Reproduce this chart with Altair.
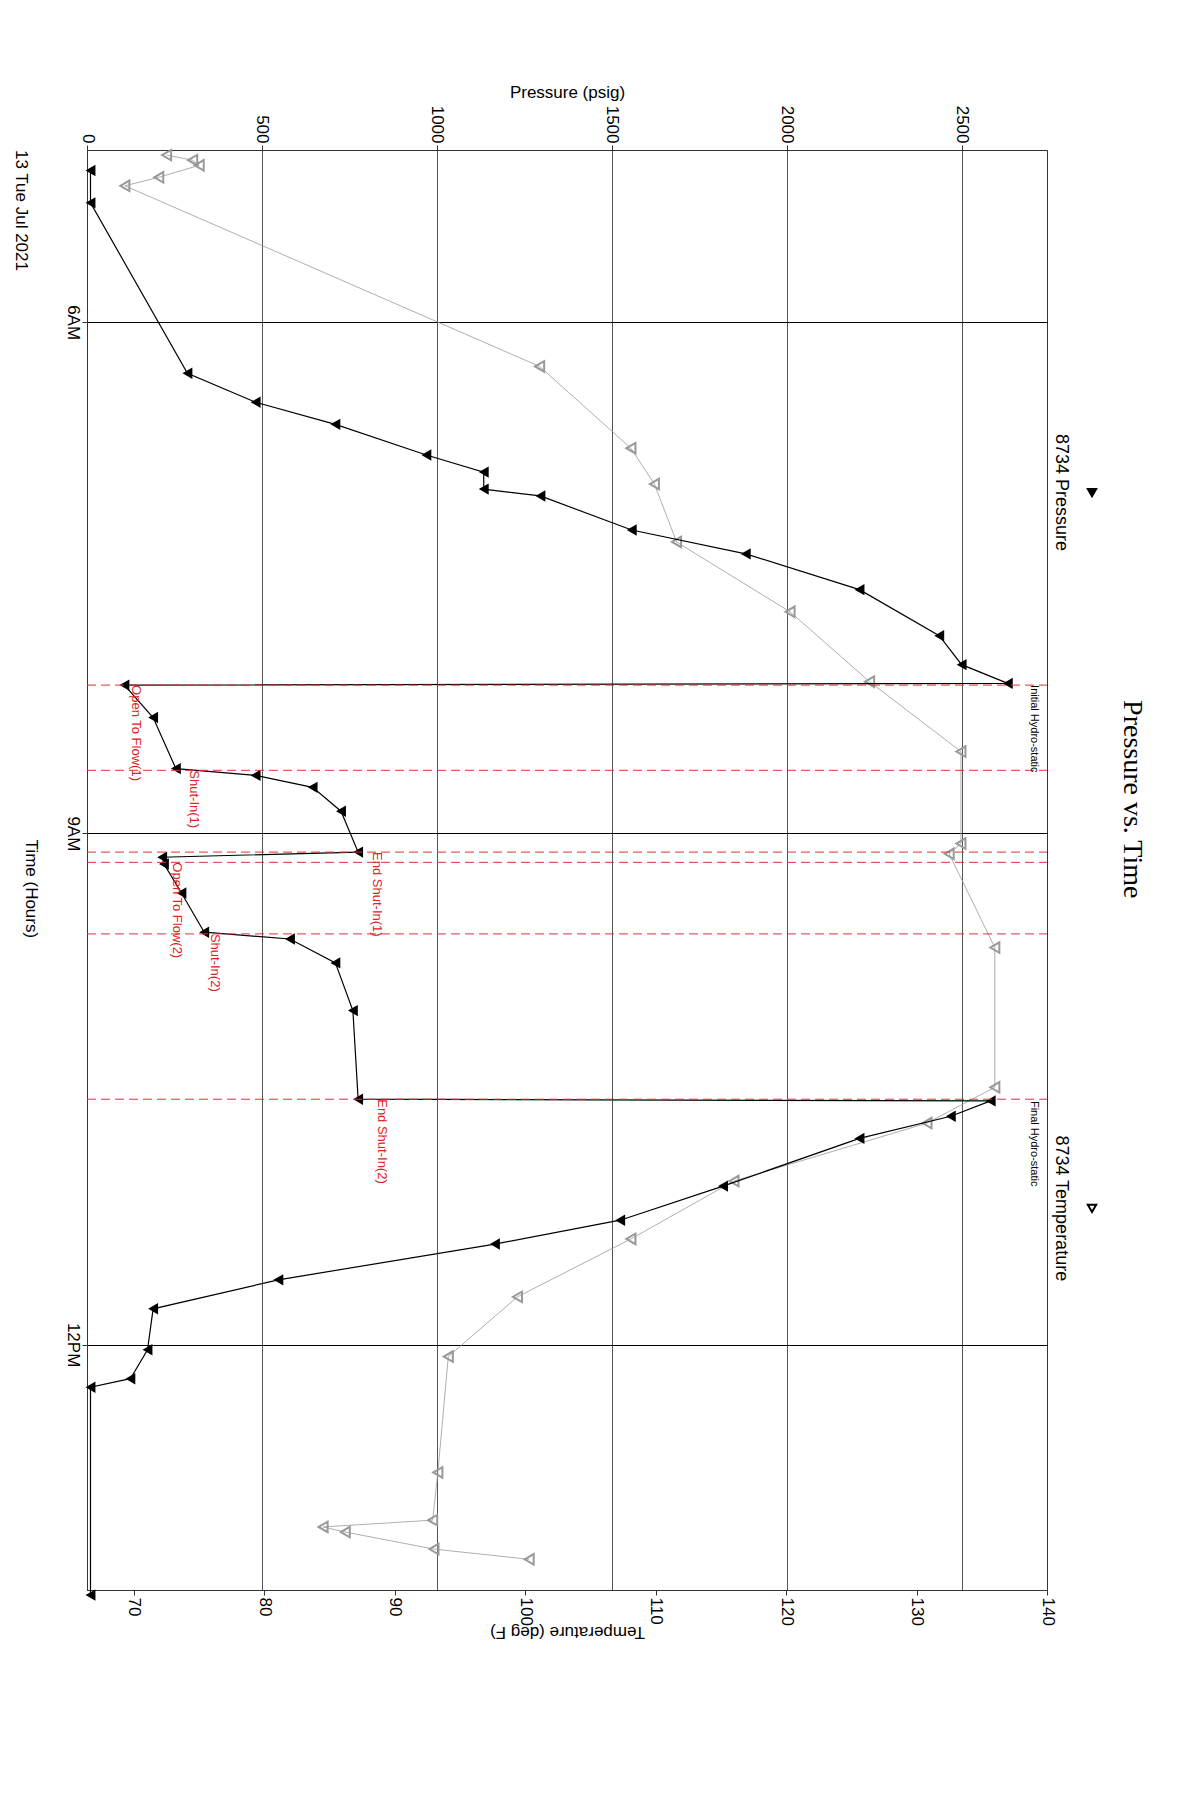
import altair as alt
import pandas as pd

# time in decimal hours, 13 Jul 2021
p_time = [5.11, 5.30, 6.30, 6.47, 6.60, 6.78, 6.88, 6.98, 7.02, 7.22, 7.36, 7.57, 7.84, 8.01, 8.12,
          8.13, 8.32, 8.62, 8.66, 8.73, 8.87, 9.11, 9.14, 9.18, 9.35, 9.58, 9.62, 9.76, 10.04, 10.56,
          10.57, 10.66, 10.79, 11.07, 11.27, 11.41, 11.62, 11.79, 12.03, 12.20, 12.25, 13.47]
p_val = [10, 10, 287, 482, 710, 970, 1134, 1134, 1296, 1557, 1883, 2208, 2436, 2500, 2632,
         107, 189, 254, 482, 645, 726, 775, 215, 220, 270, 335, 580, 710, 760, 775,
         2583, 2469, 2208, 1818, 1524, 1166, 547, 189, 173, 124, 10, 10]
t_time = [5.02, 5.05, 5.08, 5.15, 5.20, 6.26, 6.74, 6.95, 7.29, 7.70, 8.11, 8.52, 9.06, 9.12, 9.67,
          10.49, 10.70, 11.04, 11.38, 11.72, 12.07, 12.75, 13.03, 13.07, 13.10, 13.20, 13.26]
t_val = [72.5, 74.5, 75.0, 71.9, 69.3, 101.1, 108.1, 109.9, 111.6, 120.3, 126.4, 133.4, 133.4, 132.5, 136.0,
         136.0, 130.8, 116.0, 108.1, 99.4, 94.1, 93.3, 92.9, 84.5, 86.2, 93.0, 100.3]
ev_time = [8.13, 8.63, 9.11, 9.17, 9.59, 10.56]
ev_label = ["Open To Flow(1)", "Shut-In(1)", "End Shut-In(1)", "Open To Flow(2)", "Shut-In(2)", "End Shut-In(2)"]
ev_psi = [120, 287, 808, 238, 345, 824]
hydro_time = [8.13, 10.57]
hydro_label = ["Initial Hydro-static", "Final Hydro-static"]
date_label = "13 Tue Jul 2021"

W, H = 960, 1440
yscale = alt.Scale(domain=[4.99, 13.44], nice=False, zero=False, reverse=True)
pscale = alt.Scale(domain=[0, 2744], nice=False, zero=False)
tscale = alt.Scale(domain=[66.4, 140.0], nice=False, zero=False)
F = "Liberation Sans"

pdf = pd.DataFrame({"time": p_time, "psi": p_val})
tdf = pd.DataFrame({"time": t_time, "temp": t_val})
edf = pd.DataFrame({"time": ev_time, "label": ev_label, "psi": ev_psi})
hdf = pd.DataFrame({"time": hydro_time, "label": hydro_label, "psi": [2680, 2680]})

y_time = alt.Y("time:Q", scale=yscale, axis=alt.Axis(
    values=[6, 9, 12], labelExpr="datum.value == 6 ? '6AM' : datum.value == 9 ? '9AM' : '12PM'",
    labelAngle=90, labelAlign="center", labelBaseline="top", title="Time (Hours)", titleAngle=90,
    titleBaseline="top", titlePadding=26, titleY=H * (9.0 - 4.99) / 8.45 + 55,
    titleFontSize=17, labelFontSize=17, grid=True, gridColor="black", gridOpacity=1, labelFont=F, titleFont=F,
    titleFontWeight="normal"))

temp_line = alt.Chart(tdf).mark_line(color="#999", strokeWidth=0.8, point=alt.OverlayMarkDef(
    shape="triangle-left", filled=False, stroke="#999", size=110)).encode(
    x=alt.X("temp:Q", scale=tscale, axis=alt.Axis(orient="bottom", values=[70, 80, 90, 100, 110, 120, 130, 140],
            labelAngle=90, labelAlign="left", labelBaseline="middle", grid=False, title="Temperature (deg F)",
            titleAngle=180, titlePadding=14, titleFontSize=17, labelFontSize=17, labelFont=F, titleFont=F,
            titleFontWeight="normal")),
    y=y_time, order="time:Q")

base_x = alt.X("psi:Q", scale=pscale, axis=alt.Axis(orient="top", values=[0, 500, 1000, 1500, 2000, 2500],
               format="d", labelAngle=90, labelAlign="right", labelBaseline="middle", grid=True,
               gridColor="#555", gridOpacity=1, title="Pressure (psig)",
               titleFontSize=17, labelFontSize=17, labelFont=F, titleFont=F, titleFontWeight="normal"))
x_none = alt.X("psi:Q", scale=pscale, axis=None)

press_line = alt.Chart(pdf).mark_line(color="black", strokeWidth=1.2, point=alt.OverlayMarkDef(
    shape="triangle-left", filled=True, color="black", size=130)).encode(x=base_x, y=y_time, order="time:Q")

ev_rules = alt.Chart(edf).mark_rule(color="#d33", strokeDash=[9, 5], strokeWidth=1).encode(
    y=y_time, x=alt.value(0), x2=alt.value(W))
ev_text = alt.Chart(edf).mark_text(color="#d22", angle=90, align="left", baseline="middle", fontSize=13, font=F,
                                   dy=-7).encode(x=x_none, y=y_time, text="label:N")
h_text = alt.Chart(hdf).mark_text(color="black", angle=90, align="left", baseline="middle", fontSize=11, font=F,
                                  dy=-9).encode(x=x_none, y=y_time, text="label:N")

labels = pd.DataFrame({"t": ["Pressure vs. Time", "8734 Pressure", "8734 Temperature", date_label],
                       "time": [8.8, 7.0, 11.2, 4.99], "size": [28, 18, 18, 17]})
title_txt = alt.Chart(labels).transform_filter("datum.size == 28").mark_text(
    angle=90, fontSize=28, font="Liberation Serif", align="center", baseline="middle").encode(
    x=alt.value(W + 85), y=y_time, text="t:N")
leg_txt = alt.Chart(labels).transform_filter("datum.size == 18").mark_text(
    angle=90, fontSize=18, font=F, align="center", baseline="middle").encode(
    x=alt.value(W + 14), y=y_time, text="t:N")
date_txt = alt.Chart(labels).transform_filter("datum.size == 17").mark_text(
    angle=90, fontSize=17, font=F, align="left", baseline="middle").encode(
    x=alt.value(-66), y=y_time, text="t:N")
leg_sym = alt.Chart(pd.DataFrame({"time": [7.0, 11.2], "f": [True, False]})).mark_point(
    shape="triangle-down", size=70, color="black", opacity=1).encode(
    x=alt.value(W + 45), y=y_time,
    fill=alt.condition("datum.f", alt.value("black"), alt.value("white")))

chart = alt.layer(temp_line, press_line, ev_rules, ev_text, h_text, title_txt, leg_txt, date_txt, leg_sym).resolve_scale(
    x="independent").properties(width=W, height=H, padding={"top": 75, "left": 5, "right": 5, "bottom": 5}
    ).configure_view(stroke="#333").configure_axis(domainColor="#333", tickColor="#333")

chart.save("out.html", embed_options={"renderer": "svg", "actions": False})
